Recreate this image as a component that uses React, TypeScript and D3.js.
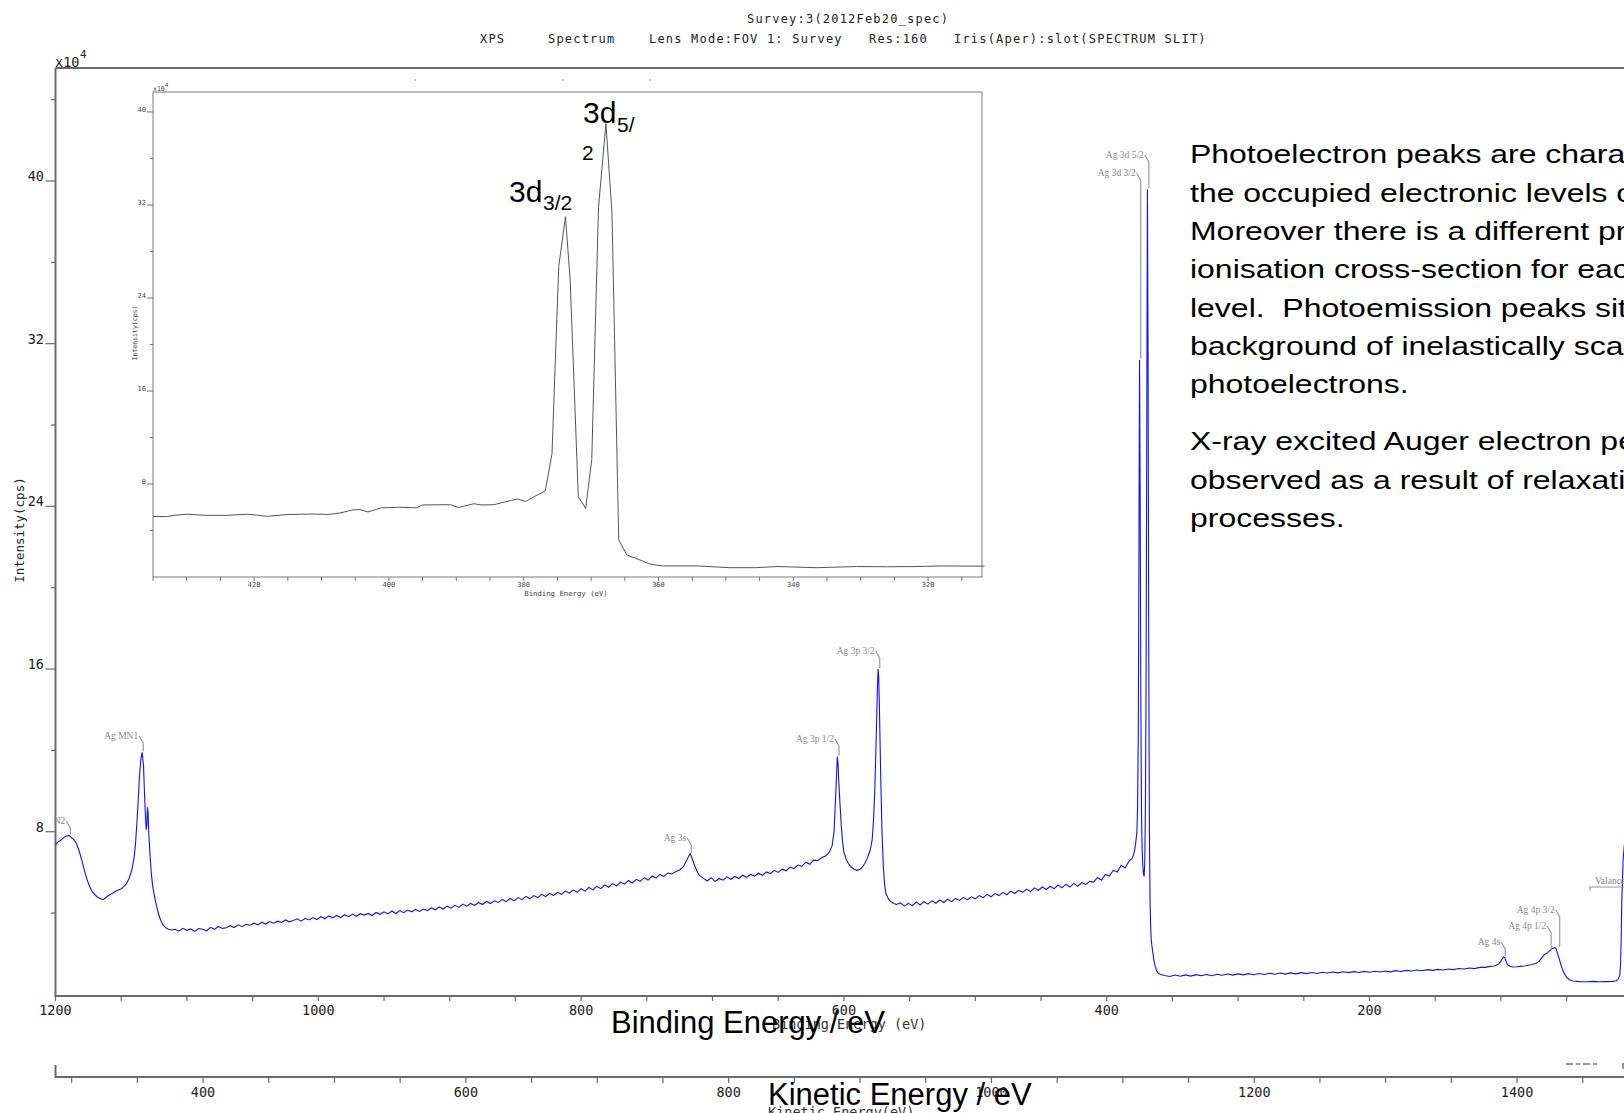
import React, { useEffect } from "react";
import * as d3 from "d3";

// survey scan, binding energy (eV) vs intensity (x10^4 cps)
const survey: [number, number][] = [
  [1200,7.35],[1198,7.5],[1196,7.58],[1194,7.7],[1192,7.78],[1190,7.82],[1188,7.72],[1186,7.6],[1184,7.42],[1182,7.05],
  [1180,6.6],[1178,6.1],[1176,5.65],[1174,5.3],[1172,5.05],[1170,4.9],[1168,4.78],[1166,4.72],[1164,4.66],[1162,4.74],
  [1160,4.85],[1158,4.92],[1156,5.0],[1154,5.08],[1152,5.14],[1150,5.2],[1148,5.3],[1146,5.45],[1144,5.7],[1142,6.1],
  [1140,6.8],[1139,7.5],[1138,8.5],[1137,9.6],[1136,10.8],[1135,11.6],[1134,11.9],[1133,11.2],[1132,9.4],[1131,8.1],
  [1130.5,8.3],[1130,9.2],[1129.5,8.9],[1129,7.9],[1128,6.8],[1127,5.9],[1126,5.3],[1124,4.6],[1122,4.05],[1120,3.65],
  [1118,3.4],[1116,3.27],[1114,3.2],[1112,3.17],
  [1109,3.2],[1106,3.12],[1103,3.25],[1100,3.15],[1097,3.22],[1094,3.1],[1091,3.24],[1088,3.2],[1085,3.13],[1082,3.3],
  [1079,3.2],[1076,3.34],[1073,3.24],[1070,3.28],[1067,3.38],[1064,3.29],[1061,3.42],[1058,3.33],[1055,3.45],[1052,3.4],
  [1049,3.5],[1046,3.42],[1043,3.55],[1040,3.46],[1037,3.58],[1034,3.5],[1031,3.6],[1028,3.54],[1025,3.66],[1022,3.57],
  [1019,3.63],[1016,3.72],[1013,3.6],[1010,3.74],[1007,3.66],[1004,3.78],[1001,3.68],[998,3.82],[995,3.72],[992,3.86],
  [989,3.76],[986,3.88],[983,3.78],[980,3.92],[977,3.82],[974,3.95],[971,3.84],[968,3.97],[965,3.9],[962,3.98],
  [959,3.88],[956,4.03],[953,3.94],[950,4.06],[947,3.96],[944,4.1],[941,3.98],[938,4.12],[935,4.02],[932,4.15],
  [929,4.06],[926,4.18],[923,4.08],[920,4.2],[917,4.12],[914,4.25],[911,4.16],[908,4.3],[905,4.2],[902,4.34],
  [899,4.24],[896,4.38],[893,4.28],[890,4.44],[887,4.34],[884,4.47],[881,4.38],[878,4.52],[875,4.42],[872,4.57],
  [869,4.47],[866,4.6],[863,4.52],[860,4.67],[857,4.56],[854,4.72],[851,4.6],[848,4.76],[845,4.66],[842,4.82],
  [839,4.7],[836,4.86],[833,4.76],[830,4.92],[827,4.81],[824,4.97],[821,4.86],[818,5.02],[815,4.92],[812,5.08],
  [809,4.98],[806,5.14],[803,5.02],[800,5.2],[797,5.08],[794,5.26],[791,5.14],[788,5.32],[785,5.2],[782,5.38],
  [779,5.27],[776,5.45],[773,5.34],[770,5.52],[767,5.42],[764,5.6],[761,5.48],[758,5.66],[755,5.56],[752,5.74],
  [749,5.62],[746,5.82],[743,5.72],[740,5.9],[737,5.8],[734,5.97],[731,5.92],
  [728,6.03],[725,6.12],[722,6.3],[720,6.55],[718,6.8],[717,6.92],[716,6.78],[714,6.4],[712,6.08],[710,5.85],
  [707,5.72],[704,5.58],[701,5.74],[698,5.55],[695,5.7],[692,5.62],[689,5.78],[686,5.66],[683,5.8],[680,5.7],
  [677,5.86],[674,5.76],[671,5.9],[668,5.82],[665,5.96],[662,5.86],[659,6.02],[656,5.94],[653,6.1],[650,6.0],
  [647,6.16],[644,6.08],[641,6.26],[638,6.18],[635,6.36],[632,6.3],[629,6.5],[626,6.4],[623,6.6],[620,6.58],
  [617,6.72],[614,6.8],[611,7.0],[609,7.3],[607.5,8.0],[606.5,9.4],[605.5,10.9],[605,11.7],[604.5,11.4],
  [604,10.6],[603,9.4],[602,8.3],[601,7.5],[600,7.0],[598,6.6],[596,6.38],[594,6.24],[592,6.14],[590,6.1],
  [588,6.14],[586,6.26],[584,6.45],[582,6.72],[580,7.1],[578.5,7.6],[577.5,8.5],[576.5,10.0],[575.5,12.4],[574.5,15.0],
  [574,16.0],[573.5,15.6],[573,14.2],[572,10.8],[571,8.0],[570,6.3],[569,5.4],[568,4.95],[566,4.68],[564,4.55],
  [562,4.47],[560,4.42],[557,4.5],[554,4.34],[551,4.48],[548,4.36],[545,4.55],[542,4.4],[539,4.56],[536,4.44],
  [533,4.6],[530,4.48],[527,4.64],[524,4.52],[521,4.68],[518,4.56],[515,4.72],[512,4.62],[509,4.76],[506,4.66],
  [503,4.8],[500,4.7],[497,4.86],[494,4.76],[491,4.92],[488,4.8],[485,4.96],[482,4.86],[479,5.02],[476,4.9],
  [473,5.08],[470,4.96],[467,5.12],[464,5.02],[461,5.18],[458,5.06],[455,5.24],[452,5.12],[449,5.28],[446,5.16],
  [443,5.32],[440,5.2],[437,5.38],[434,5.24],[431,5.42],[428,5.28],[425,5.46],[422,5.32],[419,5.5],[416,5.4],
  [413,5.56],[410,5.52],[407,5.75],[404,5.62],[401,5.9],[398,5.82],[395,6.1],[392,6.02],[389,6.35],[386,6.22],
  [383,6.55],[380.5,6.7],[379,7.0],[378,7.4],[377,8.0],[376.5,9.2],[376,12.5],[375.5,21],[375,31.2],[374.5,24],
  [374,14],[373.5,8.8],[373,7.0],[372.5,6.3],[372,5.95],[371.5,5.8],[371,6.6],[370.5,9.5],[370,16],[369.5,28],
  [369,39.6],[368.5,31],[368,17],[367.5,8],[367,4.6],[366.5,3.2],[366,2.6],[365,2.1],[364,1.65],[363,1.35],
  [362,1.18],[361,1.06],[359,0.98],[356,0.93],[352,0.88],[348,0.95],[344,0.89],[340,0.96],[336,0.9],[332,0.97],
  [328,0.92],[324,0.98],[320,0.92],[316,0.99],[312,0.94],[308,1.0],[304,0.95],[300,1.01],[296,0.96],[292,1.02],
  [288,0.97],[284,1.03],[280,0.98],[276,1.04],[272,0.99],[268,1.05],[264,1.0],[260,1.06],[256,1.01],[252,1.07],
  [248,1.02],[244,1.08],[240,1.03],[236,1.09],[232,1.05],[228,1.1],[224,1.06],[220,1.11],[216,1.07],[212,1.12],
  [208,1.08],[204,1.13],[200,1.09],[196,1.14],[192,1.1],[188,1.15],[184,1.11],[180,1.17],[176,1.13],[172,1.18],
  [168,1.15],[164,1.2],[160,1.16],[156,1.22],[152,1.18],[148,1.23],[144,1.2],[140,1.25],[136,1.22],[132,1.27],
  [128,1.25],[124,1.3],[120,1.27],[116,1.33],[112,1.33],[108,1.38],[105,1.4],[102,1.48],[100,1.62],[99,1.75],
  [98,1.84],[97,1.8],[96,1.62],[95,1.46],[93,1.38],[91,1.35],[88,1.36],[85,1.38],[82,1.4],[79,1.43],
  [76,1.47],[73,1.53],[71,1.62],[69,1.78],[67,1.95],[65,2.02],[63,2.14],[61,2.25],[59,2.3],[58,2.24],
  [57,2.05],[55.5,1.72],[54,1.38],[52,1.05],[50,0.84],[48,0.72],[45,0.66],[40,0.63],[35,0.62],[30,0.64],
  [25,0.62],[20,0.63],[15,0.64],[12,0.67],[10.5,0.78],[9.5,0.95],[9,1.4],[8.5,2.6],[8,4.6],[7,6.6],
  [6,7.4],[4,7.8],[2,7.9],[0,7.9],
];

// Ag 3d high-resolution scan shown in the inset
const ag3d: [number, number][] = [
  [435,5.2],[433,5.2],[431.8,5.3],[430,5.4],[428.5,5.35],[427,5.3],[424,5.3],[421,5.4],[419.7,5.33],[418,5.22],
  [416.7,5.3],[414.7,5.38],[411.3,5.42],[409,5.38],[407.3,5.5],[405.3,5.78],[404.3,5.8],[403.1,5.6],[401.1,5.95],[398.4,6.0],
  [395.9,5.95],[395,6.2],[390.9,6.22],[389.7,5.98],[387.4,6.3],[386.2,6.2],[384.4,6.22],[381.8,6.6],[380.9,6.7],[379.7,6.5],
  [378.5,6.9],[376.8,7.4],[375.8,10.6],[374.8,26.7],[373.8,31.0],[373.1,25.5],[371.9,6.9],[370.8,5.9],[369.9,10.1],[368.9,31.8],
  [367.8,39.0],[366.9,31.3],[365.9,3.2],[364.7,1.9],[362.9,1.5],[361.2,1.1],[359.4,0.95],[354.1,0.95],[349.4,0.8],[345.6,0.8],
  [342.4,0.9],[336.5,0.8],[330.6,0.9],[326,0.88],[321.8,0.9],[318,0.95],[311.6,0.93],
];

const peakNames = ["Ag MN2", "Ag MN1", "Ag 3s", "Ag 3p 1/2", "Ag 3p 3/2", "Ag 3d 5/2", "Ag 3d 3/2", "Ag 4s", "Ag 4p 1/2", "Ag 4p 3/2"];
const peakBE = [1189.5, 1134, 717, 604.5, 573.5, 368.7, 374.9, 97.5, 62.5, 56];
const peakCps = [7.82, 11.9, 6.92, 11.7, 16.0, 39.6, 31.2, 1.84, 2.14, 2.3];
// label baselines (layout only)
const labelY = [824, 739, 841, 742, 654, 158, 176, 945, 929, 913];

const headerParts = ["XPS", "Spectrum", "Lens Mode:FOV 1: Survey", "Res:160", "Iris(Aper):slot(SPECTRUM SLIT)"];
const headerX = [480, 548, 649, 869, 954];

const paragraph1 = [
  "Photoelectron peaks are characteristic of",
  "the occupied electronic levels of the atom.",
  "Moreover there is a different probability or",
  "ionisation cross-section for each core",
  "level.  Photoemission peaks sit on a",
  "background of inelastically scattered",
  "photoelectrons.",
];
const paragraph2 = [
  "X-ray excited Auger electron peaks are also",
  "observed as a result of relaxation",
  "processes.",
];

const MONO = "'DejaVu Sans Mono', monospace";
const SANS = "'Liberation Sans', Arial, sans-serif";
const SERIF = "'Liberation Serif', 'Times New Roman', serif";
const AXIS = "#6a6a6a";

const App = () => {
  useEffect(() => {
    document.body.style.margin = "0";
    document.body.style.overflow = "hidden";
  }, []);

  const W = 1624, H = 1113;
  const x = d3.scaleLinear().domain([1200, 0]).range([55.5, 1632.3]);
  const ke = d3.scaleLinear().domain([287.7, 1487.7]).range([55.5, 1632.3]);
  const y = d3.scaleLinear().domain([0, 40]).range([994.4, 181]);

  const xi = d3.scaleLinear().domain([435, 312]).range([153, 982]);
  const yi = d3.scaleLinear().domain([0, 40]).range([577, 112]);

  const line = d3.line<[number, number]>().x(d => x(d[0])).y(d => y(d[1]));
  const lineIn = d3.line<[number, number]>().x(d => xi(d[0])).y(d => yi(d[1]));

  const yTicks = d3.range(4, 45, 4);
  const xTicks = x.ticks(24);
  const keTicks = ke.ticks(24);
  const xiTicks = xi.ticks(25);
  const yiTicks = d3.range(4, 42, 4);

  return (
    <svg width={W} height={H} style={{ position: "absolute", left: 0, top: 0, background: "#fff" }}>
      <defs>
        <clipPath id="plotClip"><rect x={55.5} y={68} width={1580} height={928} /></clipPath>
      </defs>
      <rect width={W} height={H} fill="#fff" />

      {/* header */}
      <text x={747} y={23} fontFamily={MONO} fontSize={12} letterSpacing={1.2} fill="#222">Survey:3(2012Feb20_spec)</text>
      {headerParts.map((t, i) => (
        <text key={i} x={headerX[i]} y={43} fontFamily={MONO} fontSize={12} letterSpacing={1.2} fill="#222">{t}</text>
      ))}
      <text x={55} y={67} fontFamily={MONO} fontSize={13.5} fill="#222">x10</text>
      <text x={80} y={58} fontFamily={MONO} fontSize={11} fill="#222">4</text>

      {/* frame */}
      <line x1={55.5} x2={W} y1={68} y2={68} stroke={AXIS} strokeWidth={2} />
      <line x1={55.5} x2={55.5} y1={68} y2={997} stroke={AXIS} strokeWidth={2} />
      <line x1={55.5} x2={W} y1={996} y2={996} stroke={AXIS} strokeWidth={2} />

      {/* y axis */}
      {yTicks.map(v => (
        <g key={v}>
          <line x1={v % 8 === 0 ? 45.5 : 51} x2={55.5} y1={y(v)} y2={y(v)} stroke={AXIS} strokeWidth={1.2} />
          {v % 8 === 0 && (
            <text x={44} y={y(v)} textAnchor="end" fontFamily={MONO} fontSize={13.5} fill="#222">{v}</text>
          )}
        </g>
      ))}
      <text transform="translate(24,530) rotate(-90)" textAnchor="middle" fontFamily={MONO} fontSize={12.5} fill="#222">Intensity(cps)</text>

      {/* binding energy axis */}
      {xTicks.filter(v => x(v) <= W).map(v => (
        <g key={v}>
          <line x1={x(v)} x2={x(v)} y1={996} y2={1001} stroke={AXIS} strokeWidth={1.2} />
          {v % 200 === 0 && (
            <text x={x(v)} y={1015} textAnchor="middle" fontFamily={MONO} fontSize={13.5} fill="#222">{v}</text>
          )}
        </g>
      ))}
      <text x={772} y={1029} fontFamily={MONO} fontSize={13.5} fill="#333">Binding Energy (eV)</text>
      <text x={611} y={1033} fontFamily={SANS} fontSize={31} fill="#000">Binding Energy / eV</text>

      {/* kinetic energy axis */}
      <line x1={55.5} x2={W} y1={1077} y2={1077} stroke={AXIS} strokeWidth={2} />
      <line x1={55.5} x2={55.5} y1={1065} y2={1078} stroke={AXIS} strokeWidth={2} />
      {keTicks.filter(v => ke(v) > 56 && ke(v) <= W).map(v => (
        <g key={v}>
          <line x1={ke(v)} x2={ke(v)} y1={1077} y2={1083} stroke={AXIS} strokeWidth={1.2} />
          {v % 200 === 0 && (
            <text x={ke(v)} y={1097} textAnchor="middle" fontFamily={MONO} fontSize={13.5} fill="#222">{v}</text>
          )}
        </g>
      ))}
      <line x1={1566} x2={1599} y1={1064} y2={1064} stroke="#333" strokeWidth={1} strokeDasharray="7 3 4 3" />
      <line x1={1623} x2={1623} y1={1063} y2={1069} stroke="#333" strokeWidth={1} />
      <text x={768} y={1117} fontFamily={MONO} fontSize={13.5} fill="#333">Kinetic Energy(eV)</text>
      <text x={768} y={1105} fontFamily={SANS} fontSize={31} fill="#000">Kinetic Energy / eV</text>

      {/* survey spectrum */}
      <g clipPath="url(#plotClip)">
        <path d={line(survey) ?? ""} fill="none" stroke="#1010ff" strokeWidth={1.1} />
        {peakNames.map((n, i) => {
          const px = x(peakBE[i]) + 1;
          const ty = labelY[i];
          return (
            <g key={n}>
              <text x={px - 5} y={ty} textAnchor="end" fontFamily={SERIF} fontSize={9.5} fill="#8a8a8a">{n}</text>
              <path d={`M${px - 4},${ty - 3} L${px},${ty + 4} L${px},${y(peakCps[i]) - 1}`} fill="none" stroke="#9a9a9a" strokeWidth={1.2} />
            </g>
          );
        })}
        <text x={1595} y={884} fontFamily={SERIF} fontSize={9.5} fill="#8a8a8a">Valance Band</text>
        <path d="M1590,891 L1590,887 L1630,887" fill="none" stroke="#9a9a9a" strokeWidth={1.2} />
      </g>

      {/* inset */}
      <g>
        <rect x={153} y={92} width={829} height={485} fill="#fff" stroke="#7a7a7a" strokeWidth={1} />
        {[414, 562, 649].map(v => (
          <line key={v} x1={v} x2={v + 2} y1={80} y2={80} stroke="#999" strokeWidth={1} />
        ))}
        <text x={153} y={91} fontFamily={MONO} fontSize={6.5} fill="#444">x10</text>
        <text x={165} y={87} fontFamily={MONO} fontSize={5.5} fill="#444">4</text>
        {yiTicks.map(v => (
          <g key={v}>
            <line x1={v % 8 === 0 ? 147 : 150} x2={153} y1={yi(v)} y2={yi(v)} stroke="#777" strokeWidth={1} />
            {v % 8 === 0 && (
              <text x={146} y={yi(v) - 0.5} textAnchor="end" fontFamily={MONO} fontSize={7} fill="#444">{v}</text>
            )}
          </g>
        ))}
        <text transform="translate(137,333) rotate(-90)" textAnchor="middle" fontFamily={MONO} fontSize={6.5} fill="#444">Intensity(cps)</text>
        {xiTicks.filter(v => xi(v) >= 153 && xi(v) <= 982).map(v => (
          <g key={v}>
            <line x1={xi(v)} x2={xi(v)} y1={577} y2={581} stroke="#777" strokeWidth={1} />
            {v % 20 === 0 && (
              <text x={xi(v)} y={587} textAnchor="middle" fontFamily={MONO} fontSize={7} fill="#444">{v}</text>
            )}
          </g>
        ))}
        <text x={566} y={596} textAnchor="middle" fontFamily={MONO} fontSize={7.3} fill="#444">Binding Energy (eV)</text>
        <path d={lineIn(ag3d) ?? ""} fill="none" stroke="#555" strokeWidth={1} />

        <text x={509} y={202} fontFamily={SANS} fontSize={30} fill="#000">3d</text>
        <text x={543} y={210} fontFamily={SANS} fontSize={21} fill="#000">3/2</text>
        <text x={583} y={123} fontFamily={SANS} fontSize={30} fill="#000">3d</text>
        <text x={617} y={132} fontFamily={SANS} fontSize={21} fill="#000">5/</text>
        <text x={582} y={160} fontFamily={SANS} fontSize={21} fill="#000">2</text>
      </g>

      {/* explanatory text, slightly stretched horizontally as in the slide */}
      <g transform="translate(1190,0) scale(1.23,1)" fontFamily={SANS} fontSize={26} fill="#000">
        {paragraph1.map((t, i) => (
          <text key={t} x={0} y={163.5 + i * 38.3} xmlSpace="preserve">{t}</text>
        ))}
        {paragraph2.map((t, i) => (
          <text key={t} x={0} y={450.5 + i * 38.3} xmlSpace="preserve">{t}</text>
        ))}
      </g>
    </svg>
  );
};

export default App;
